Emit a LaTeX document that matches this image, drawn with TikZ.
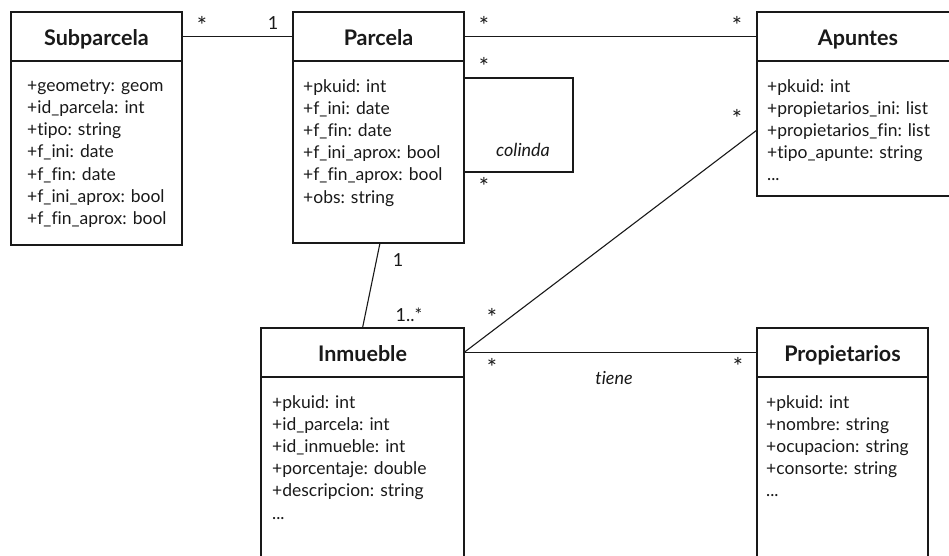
\documentclass[tikz,border=0pt]{standalone}
\usepackage{fontspec}
\setmainfont{Lato}[Ligatures=NoCommon]
\begin{document}
\begin{tikzpicture}[x=1pt,y=-1pt,
  box/.style={draw=black!90, line width=1.2pt, inner sep=0pt, outer sep=0pt, anchor=north west, rectangle},
  hdr/.style={box, minimum height=49pt},
  ttl/.style={font=\fontsize{21.5}{24}\selectfont\bfseries, anchor=base, inner sep=0pt, text=black!90},
  attr/.style={font=\fontsize{17.5}{22.2}\selectfont, align=left, anchor=north west, inner sep=0pt, text=black!90},
  lnk/.style={draw=black!90, line width=1.1pt},
  mult/.style={font=\fontsize{18}{20}\selectfont, inner sep=0pt, text=black!90},
  star/.style={font=\fontsize{24}{20}\selectfont, inner sep=0pt, text=black!90},
  role/.style={font=\fontsize{18}{20}\selectfont\itshape, inner sep=0pt, text=black!90}]
\useasboundingbox (0,0) rectangle (949,555);
\clip (0,0) rectangle (949,555);
\newcommand{\fl}{\rule{0pt}{12pt}}

% Subparcela
\node[box, minimum width=171pt, minimum height=233pt] (sub) at (11,12) {};
\node[hdr, minimum width=171pt] (subh) at (11,12) {};
\node[ttl] (subt) at (96.5,45) {Subparcela};
\node[attr] (suba) at (27,79) {\fl+geometry: geom\\+id\_parcela: int\\+tipo: string\\+f\_ini: date\\+f\_fin: date\\+f\_ini\_aprox: bool\\+f\_fin\_aprox: bool};

% Parcela
\node[box, minimum width=171pt, minimum height=231pt] (par) at (293,12) {};
\node[hdr, minimum width=171pt] (parh) at (293,12) {};
\node[ttl] (part) at (378.5,45) {Parcela};
\node[attr] (para) at (303,79) {\fl+pkuid: int\\+f\_ini: date\\+f\_fin: date\\+f\_ini\_aprox: bool\\+f\_fin\_aprox: bool\\+obs: string};

% Apuntes
\node[box, minimum width=202pt, minimum height=184pt] (apu) at (757,12) {};
\node[hdr, minimum width=202pt] (apuh) at (757,12) {};
\node[ttl] (aput) at (858,45) {Apuntes};
\node[attr] (apua) at (767,79) {\fl+pkuid: int\\+propietarios\_ini: list\\+propietarios\_fin: list\\+tipo\_apunte: string\\...};

% Inmueble
\node[box, minimum width=203pt, minimum height=240pt] (inm) at (261,328) {};
\node[hdr, minimum width=203pt] (inmh) at (261,328) {};
\node[ttl] (inmt) at (362.5,361) {Inmueble};
\node[attr] (inma) at (272,395) {\fl+pkuid: int\\+id\_parcela: int\\+id\_inmueble: int\\+porcentaje: double\\+descripcion: string\\...};

% Propietarios
\node[box, minimum width=171pt, minimum height=240pt] (pro) at (757,328) {};
\node[hdr, minimum width=171pt] (proh) at (757,328) {};
\node[ttl] (prot) at (842.5,361) {Propietarios};
\node[attr] (proa) at (766,395) {\fl+pkuid: int\\+nombre: string\\+ocupacion: string\\+consorte: string\\...};

% connectors
\draw[lnk] (subh.east) -- (parh.west);
\draw[lnk] (parh.east) -- (apuh.west);
\coordinate (cl1) at ([yshift=-66pt]par.north east);
\coordinate (cl2) at ([yshift=-160pt]par.north east);
\draw[lnk] (cl1) -- ++(109,0) |- (cl2);
\coordinate (apuin) at ([yshift=-118pt]apu.north west);
\draw[lnk] (inmh.east) -- (apuin);
\draw[lnk] (inmh.east) -- (proh.west);
\draw[lnk] ([xshift=1.5pt]par.south) -- (inm.north);

% multiplicities
\node[star] (m1) at (202,25) {*};
\node[mult] (m2) at (273,23) {1};
\node[star] (m3) at (484,25) {*};
\node[star] (m4) at (737,25) {*};
\node[star] (m5) at (484,66) {*};
\node[star] (m6) at (484,186) {*};
\node[role] (r1) at (523,150) {colinda};
\node[star] (m7) at (737,118) {*};
\node[mult] (m8) at (398,260) {1};
\node[mult] (m9) at (409,315) {1..*};
\node[star] (m10) at (492,317) {*};
\node[star] (m11) at (492,367) {*};
\node[role] (r2) at (614,378) {tiene};
\node[star] (m12) at (738,366) {*};
\end{tikzpicture}
\end{document}
